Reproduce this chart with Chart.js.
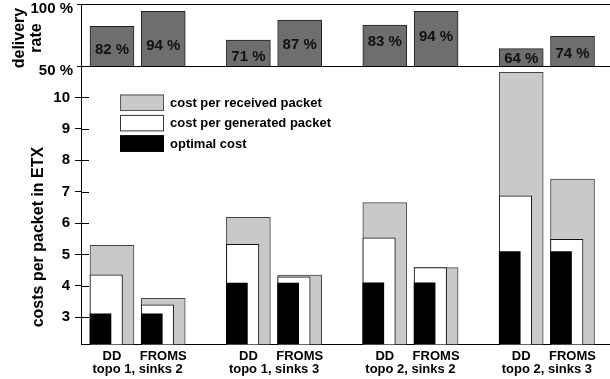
<!DOCTYPE html>
<html>
<head>
<meta charset="utf-8">
<script src="https://cdn.jsdelivr.net/npm/chart.js@4/dist/chart.umd.min.js"></script>
<style>
  html, body { margin: 0; padding: 0; background: #fff; }
  #wrap { position: relative; width: 610px; height: 379px; overflow: hidden; }
  #rateBox { position: absolute; left: 0; top: 0; width: 610px; height: 80px; z-index: 2; }
  #costBox { position: absolute; left: 0; top: 66px; width: 610px; height: 313px; z-index: 1; }
</style>
</head>
<body>
<div id="wrap">
  <div id="costBox"><canvas id="costChart"></canvas></div>
  <div id="rateBox"><canvas id="rateChart"></canvas></div>
</div>
<script>
// ---- data ----
const protocols = ['DD', 'FROMS'];
const scenarios = ['topo 1, sinks 2', 'topo 1, sinks 3', 'topo 2, sinks 2', 'topo 2, sinks 3'];
// one entry per bar: DD / FROMS for each scenario in turn
const deliveryRate   = [82, 94, 71, 87, 83, 94, 64, 74];
const costReceived   = [5.29, 3.60, 6.18, 4.34, 6.65, 4.58, 10.80, 7.40];
const costGenerated  = [4.35, 3.40, 5.32, 4.29, 5.53, 4.58, 6.87, 5.48];
const costOptimal    = [3.11, 3.11, 4.09, 4.09, 4.10, 4.10, 5.09, 5.09];
const rateTickValues = [50, 100];
const costTickValues = [3, 4, 5, 6, 7, 8, 9, 10];
const seriesNames = ['cost per received packet', 'cost per generated packet', 'optimal cost'];

// ---- layout ----
const FONT = "'Liberation Sans', Arial, Helvetica, sans-serif";
const X_MIN = -0.175, X_MAX = 10.14;      // x in "bar slot" units
const SLOT_PX = 529 / (X_MAX - X_MIN);    // pixels per slot unit
const GROUP_STEP = 2.66;                  // distance between scenario groups
const W_RECEIVED = 44, W_GENERATED = 32.5, W_OPTIMAL = 21;
const AXIS_WIDTH = 81;
// small vertical shifts for the percentage labels inside the rate bars
const rateLabelNudge = [4, 7, 4, 2, -4, -2, 2, 3];

const barLeft = i => Math.floor(i / 2) * GROUP_STEP + (i % 2);
const barCenter = (i, w) => barLeft(i) + (w / 2) / SLOT_PX;
const points = (vals, w) => vals.map((v, i) => ({ x: barCenter(i, w), y: v }));

// x tick labels: protocol under each bar, scenario name on a second line
const xTickDefs = [];
scenarios.forEach((name, g) => {
  const a = barCenter(2 * g, W_RECEIVED), b = barCenter(2 * g + 1, W_RECEIVED);
  xTickDefs.push({ value: a, label: protocols[0] });
  xTickDefs.push({ value: (a + b) / 2, label: ['', name] });
  xTickDefs.push({ value: b, label: protocols[1] });
});

Chart.defaults.font.family = FONT;
Chart.defaults.font.weight = 'bold';
Chart.defaults.color = '#000';
Chart.defaults.animation = false;

function fixedWidth(scale) {
  scale.width = AXIS_WIDTH;
  scale.paddingTop = 0; scale.paddingBottom = 0;
}

function verticalText(ctx, lines, x, y, size, align, step) {
  ctx.save();
  ctx.font = `bold ${size}px ${FONT}`;
  ctx.fillStyle = '#000';
  ctx.translate(x, y);
  ctx.rotate(-Math.PI / 2);
  ctx.textAlign = align;
  ctx.textBaseline = 'middle';
  lines.forEach((t, i) => ctx.fillText(t, 0, i * step));
  ctx.restore();
}

// ---- delivery rate panel ----
const rateDecor = {
  id: 'rateDecor',
  afterDatasetsDraw(chart) {
    const { ctx, chartArea } = chart;
    const meta = chart.getDatasetMeta(0);
    ctx.save();
    ctx.font = `bold 15px ${FONT}`;
    ctx.fillStyle = '#111';
    ctx.textAlign = 'center';
    ctx.textBaseline = 'middle';
    meta.data.forEach((el, i) => {
      const base = Math.min(el.base, chartArea.bottom);
      const y = (el.y + base) / 2 + rateLabelNudge[i];
      ctx.fillText(deliveryRate[i] + ' %', el.x, y);
    });
    ctx.restore();
    // axis title, two rotated lines
    verticalText(ctx, ['delivery', 'rate'], 20, (chartArea.top + chartArea.bottom) / 2 + 3, 16, 'center', 17);
  }
};

new Chart(document.getElementById('rateChart'), {
  type: 'bar',
  data: {
    datasets: [{
      label: 'delivery rate',
      data: points(deliveryRate, W_RECEIVED),
      backgroundColor: '#6e6e6e',
      borderColor: '#222',
      borderWidth: 1,
      barThickness: W_RECEIVED,
      grouped: false
    }]
  },
  options: {
    responsive: true,
    maintainAspectRatio: false,
    events: [],
    layout: { padding: { top: 4, bottom: 14, left: 0, right: 0 } },
    plugins: { legend: { display: false }, tooltip: { enabled: false } },
    scales: {
      x: { type: 'linear', min: X_MIN, max: X_MAX, offset: false, display: false },
      y: {
        min: 50, max: 100,
        afterBuildTicks: s => { s.ticks = rateTickValues.map(v => ({ value: v })); },
        afterFit: fixedWidth,
        grid: { color: '#000', lineWidth: 1, tickLength: 4, drawOnChartArea: true },
        border: { display: true, color: '#000', width: 1 },
        ticks: {
          padding: 4, labelOffset: 5,
          font: { size: 15, weight: 'bold' },
          callback: v => v + ' %'
        }
      }
    }
  },
  plugins: [rateDecor]
});

// ---- cost panel ----
const costDecor = {
  id: 'costDecor',
  afterDraw(chart) {
    const { ctx, chartArea } = chart;
    const yScale = chart.scales.y;
    ctx.save();
    // tick marks continue a little into the plot
    ctx.strokeStyle = '#000';
    ctx.lineWidth = 1;
    yScale.ticks.forEach(t => {
      const y = Math.round(yScale.getPixelForValue(t.value)) + 0.5;
      ctx.beginPath();
      ctx.moveTo(chartArea.left, y);
      ctx.lineTo(chartArea.left + 8, y);
      ctx.stroke();
    });
    ctx.restore();
    // axis title
    verticalText(ctx, ['costs per packet in ETX'], 39, chartArea.bottom - 17, 16, 'left', 0);

    // legend
    ctx.save();
    const lx = chartArea.left + 39, ly = chartArea.top + 28.5;
    ctx.font = `bold 13px ${FONT}`;
    ctx.textBaseline = 'middle';
    ctx.textAlign = 'left';
    chart.data.datasets.forEach((ds, i) => {
      const y = ly + i * 20.4;
      ctx.fillStyle = ds.backgroundColor;
      ctx.fillRect(lx, y, 44, 16.5);
      ctx.strokeStyle = ds.legendBorder;
      ctx.lineWidth = 1;
      ctx.strokeRect(lx + 0.5, y + 0.5, 43, 15.5);
      ctx.fillStyle = '#000';
      ctx.fillText(ds.label, lx + 50, y + 9);
    });
    ctx.restore();
  }
};

new Chart(document.getElementById('costChart'), {
  type: 'bar',
  data: {
    datasets: [
      {
        label: seriesNames[0],
        data: points(costReceived, W_RECEIVED),
        backgroundColor: '#c9c9c9', borderColor: '#444', legendBorder: '#555',
        borderWidth: 1, barThickness: W_RECEIVED, grouped: false, order: 3
      },
      {
        label: seriesNames[1],
        data: points(costGenerated, W_GENERATED),
        backgroundColor: '#ffffff', borderColor: '#111', legendBorder: '#333',
        borderWidth: 1, barThickness: W_GENERATED, grouped: false, order: 2
      },
      {
        label: seriesNames[2],
        data: points(costOptimal, W_OPTIMAL),
        backgroundColor: '#000000', borderColor: '#000', legendBorder: '#000',
        borderWidth: 0, barThickness: W_OPTIMAL, grouped: false, order: 1
      }
    ]
  },
  options: {
    responsive: true,
    maintainAspectRatio: false,
    events: [],
    layout: { padding: { top: 0, bottom: 0, left: 0, right: 0 } },
    plugins: { legend: { display: false }, tooltip: { enabled: false } },
    scales: {
      x: {
        type: 'linear', min: X_MIN, max: X_MAX, offset: false,
        afterBuildTicks: s => { s.ticks = xTickDefs.map(t => ({ value: t.value })); },
        afterFit: s => { s.height = 34.7; s.paddingLeft = 0; s.paddingRight = 0; },
        grid: { display: true, drawOnChartArea: false, drawTicks: false },
        border: { display: true, color: '#000', width: 1 },
        ticks: {
          autoSkip: false, maxRotation: 0, padding: 5,
          font: { size: 13, weight: 'bold', lineHeight: 1.05 },
          callback: (v, i) => xTickDefs[i] ? xTickDefs[i].label : ''
        }
      },
      y: {
        min: 2.14, max: 11,
        afterBuildTicks: s => { s.ticks = costTickValues.map(v => ({ value: v })); },
        afterFit: fixedWidth,
        grid: { drawOnChartArea: false, color: '#000', tickLength: 6 },
        border: { display: true, color: '#000', width: 1 },
        ticks: { padding: 5, font: { size: 15, weight: 'bold' } }
      }
    }
  },
  plugins: [costDecor]
});
</script>
</body>
</html>
